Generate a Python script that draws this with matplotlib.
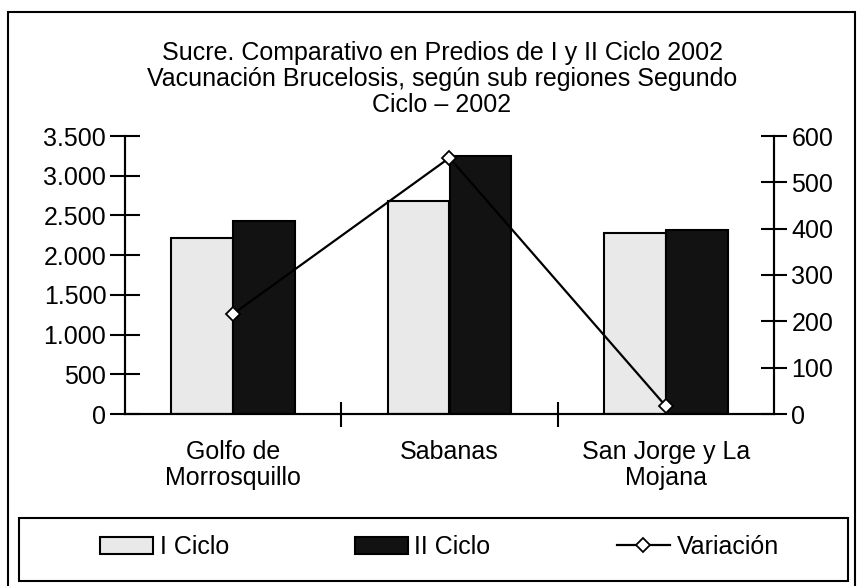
import numpy as np
import matplotlib.pyplot as plt
from matplotlib.patches import Rectangle
from matplotlib.ticker import FuncFormatter

# datos
categorias = ["Golfo de\nMorrosquillo", "Sabanas", "San Jorge y La\nMojana"]
ciclo_1 = [2212, 2682, 2283]
ciclo_2 = [2434, 3248, 2317]
variacion = [216, 553, 17]
ticks_izq = [0, 500, 1000, 1500, 2000, 2500, 3000, 3500]
ticks_der = [0, 100, 200, 300, 400, 500, 600]

plt.rcParams['font.family'] = ['Liberation Sans', 'DejaVu Sans']
fs = 18

fig = plt.figure(figsize=(8.64, 5.86), dpi=100)
W, H = 864.0, 586.0

# borde exterior del grafico
fig.patches.append(Rectangle((8 / W, -5 / H), 847 / W, 579 / H, transform=fig.transFigure,
                             fill=False, edgecolor='black', linewidth=1.5))

ax = fig.add_axes([125 / W, 1 - 414 / H, 649 / W, 278 / H])
ax2 = ax.twinx()

x = np.arange(len(categorias))
bw = 0.286
ax.bar(x - bw / 2, ciclo_1, bw, color='#e9e9e9', edgecolor='black', linewidth=1.5, label='I Ciclo')
ax.bar(x + bw / 2, ciclo_2, bw, color='#121212', edgecolor='black', linewidth=1.5, label='II Ciclo')
ax2.plot(x, variacion, color='black', linewidth=1.6, marker='D', markersize=7.5,
         markerfacecolor='white', markeredgecolor='black', markeredgewidth=1.3, label='Variación')

ax.set_xlim(-0.5, 2.5)
ax.set_ylim(0, 3500)
ax2.set_ylim(0, 600)
ax.set_yticks(ticks_izq)
ax2.set_yticks(ticks_der)
ax.yaxis.set_major_formatter(FuncFormatter(lambda v, p: f'{int(v):,}'.replace(',', '.')))

ax.set_xticks(x)
ax.set_xticklabels(categorias, fontsize=fs, linespacing=1.1)
ax.tick_params(axis='x', which='major', length=0, pad=19)
ax.set_xticks([0.5, 1.5], minor=True)
ax.tick_params(axis='x', which='minor', direction='inout', length=18, width=1.5)
ax.tick_params(axis='y', direction='inout', length=21, width=1.5, labelsize=fs, pad=3)
ax2.tick_params(axis='y', direction='inout', length=19, width=1.5, labelsize=fs, pad=3)

for a in (ax, ax2):
    a.spines['top'].set_visible(False)
    for s in ('left', 'right', 'bottom'):
        a.spines[s].set_linewidth(1.5)

fig.text(442 / W, 1 - 79 / H,
         "Sucre. Comparativo en Predios de I y II Ciclo 2002\n"
         "Vacunación Brucelosis, según sub regiones Segundo\n"
         "Ciclo – 2002",
         ha='center', va='center', fontsize=fs, linespacing=1.1)

# caja de leyenda
fig.patches.append(Rectangle((19 / W, 1 - 581 / H), 829 / W, 63 / H, transform=fig.transFigure,
                             fill=False, edgecolor='black', linewidth=1.5))
h1, l1 = ax.get_legend_handles_labels()
h2, l2 = ax2.get_legend_handles_labels()
handles = h1 + h2
labels = l1 + l2
pos_ley = [100, 355, 617]
for h, l, px in zip(handles, labels, pos_ley):
    fig.legend([h], [l], loc='center left', bbox_to_anchor=(px / W, 1 - 547 / H),
               frameon=False, fontsize=fs, handlelength=2.1, handletextpad=0.28,
               borderpad=0, borderaxespad=0)

fig.savefig('out.png', dpi=100)
